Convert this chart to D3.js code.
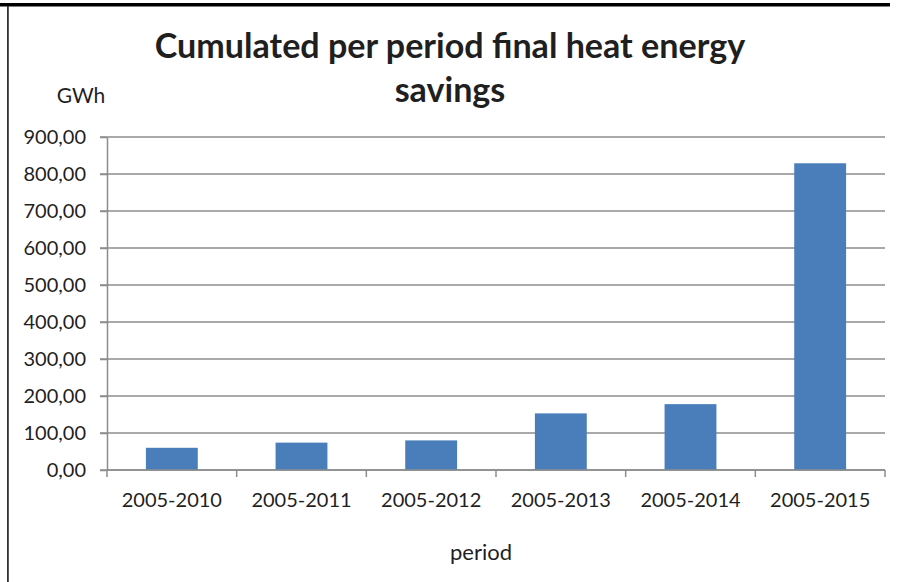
<!DOCTYPE html>
<html>
<head>
<meta charset="utf-8">
<script src="https://cdn.jsdelivr.net/npm/d3@7"></script>
<style>
  body { margin: 0; background: #fff; }
  text { font-family: Lato, "Open Sans", sans-serif; fill: #1f1f1f; }
  .grid line { stroke: #8c8c8c; stroke-width: 1.5; }
  .axis path, .axis line { stroke: #8c8c8c; stroke-width: 1.5; }
</style>
</head>
<body>
<div id="chart"></div>
<script>
// chart data
var periods = ["2005-2010", "2005-2011", "2005-2012", "2005-2013", "2005-2014", "2005-2015"];
var savings = [60, 74, 80, 153, 178, 829];
var yTicks = [0, 100, 200, 300, 400, 500, 600, 700, 800, 900];
var titleLines = ["Cumulated per period final heat energy", "savings"];

var svgWidth = 897;
var svgHeight = 582;

var margin = { top: 137, right: 12, bottom: 112, left: 107 };
var width = svgWidth - margin.left - margin.right;
var height = svgHeight - margin.top - margin.bottom;

var svg = d3.select("#chart")
  .append("svg")
  .attr("width", svgWidth)
  .attr("height", svgHeight);

// outer frame bits: thick top rule and thin left rule
svg.append("rect")
  .attr("x", 0).attr("y", 3)
  .attr("width", 890).attr("height", 3.5)
  .attr("fill", "#000");
svg.append("rect")
  .attr("x", 7).attr("y", 6)
  .attr("width", 1.8).attr("height", svgHeight - 6)
  .attr("fill", "#333");

var chartGroup = svg.append("g")
  .attr("transform", `translate(${margin.left}, ${margin.top})`);

var xBandScale = d3.scaleBand()
  .domain(periods)
  .range([0, width])
  .paddingInner(0.6)
  .paddingOuter(0.3);

var yLinearScale = d3.scaleLinear()
  .domain([0, 900])
  .range([height, 0]);

var commaFormat = d3.formatLocale({ decimal: ",", thousands: ".", grouping: [3], currency: ["", ""] }).format(".2f");

// gridlines
chartGroup.append("g")
  .attr("class", "grid")
  .selectAll("line")
  .data(yTicks)
  .enter()
  .append("line")
  .attr("x1", -7)
  .attr("x2", width)
  .attr("y1", d => yLinearScale(d))
  .attr("y2", d => yLinearScale(d));

// bars
chartGroup.selectAll("rect.bar")
  .data(savings)
  .enter()
  .append("rect")
  .attr("class", "bar")
  .attr("x", (d, i) => xBandScale(periods[i]))
  .attr("y", d => yLinearScale(d))
  .attr("width", xBandScale.bandwidth())
  .attr("height", d => height - yLinearScale(d))
  .attr("fill", "#4a7ebb");

// y axis
var leftAxis = d3.axisLeft(yLinearScale)
  .tickValues(yTicks)
  .tickFormat(commaFormat)
  .tickSize(7)
  .tickSizeOuter(0)
  .tickPadding(14);

chartGroup.append("g")
  .attr("class", "axis")
  .call(leftAxis)
  .call(g => g.selectAll("text").style("font-size", "20px").style("fill", "#1f1f1f"));

// x axis with ticks at category boundaries
var step = width / periods.length;
var xAxisGroup = chartGroup.append("g")
  .attr("class", "axis")
  .attr("transform", `translate(0, ${height})`);

xAxisGroup.append("line")
  .attr("x1", 0).attr("x2", width)
  .attr("y1", 0).attr("y2", 0);

xAxisGroup.selectAll("line.tick")
  .data(d3.range(periods.length + 1))
  .enter()
  .append("line")
  .attr("class", "tick")
  .attr("x1", d => d * step)
  .attr("x2", d => d * step)
  .attr("y1", 0)
  .attr("y2", 7);

xAxisGroup.selectAll("text")
  .data(periods)
  .enter()
  .append("text")
  .attr("x", d => xBandScale(d) + xBandScale.bandwidth() / 2)
  .attr("y", 37)
  .attr("text-anchor", "middle")
  .style("font-size", "20px")
  .text(d => d);

// axis titles
svg.append("text")
  .attr("x", 81)
  .attr("y", 103)
  .attr("text-anchor", "middle")
  .style("font-size", "21px")
  .text("GWh");

svg.append("text")
  .attr("x", 481)
  .attr("y", 560)
  .attr("text-anchor", "middle")
  .style("font-size", "22px")
  .text("period");

// chart title, two lines, scaled to match the original width
var title = svg.append("text")
  .attr("text-anchor", "middle")
  .style("font-weight", "bold")
  .style("font-size", "30px");

title.selectAll("tspan")
  .data(titleLines)
  .enter()
  .append("tspan")
  .attr("x", 450)
  .attr("y", (d, i) => 58 + i * 44)
  .text(d => d);

var firstLen = title.select("tspan").node().getComputedTextLength();
title.style("font-size", (30 * 590 / firstLen).toFixed(1) + "px");
</script>
</body>
</html>
